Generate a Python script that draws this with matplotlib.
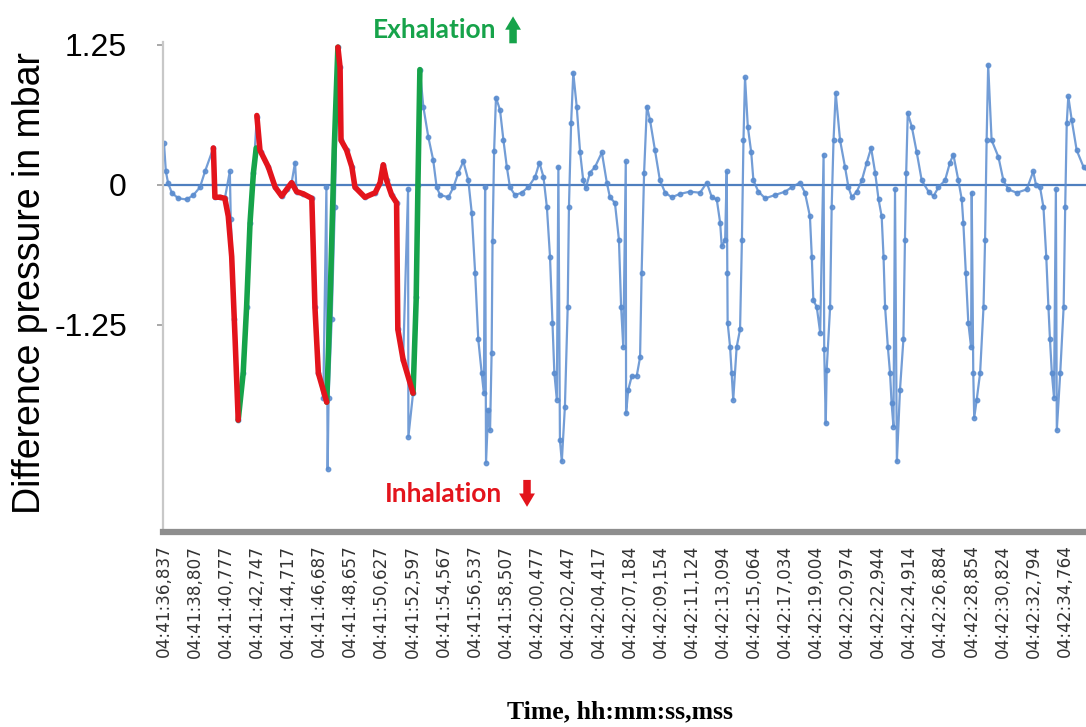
import numpy as np
import matplotlib.pyplot as plt

# time labels (category axis, one label per tick)
time_labels = ["04:41:36,837", "04:41:38,807", "04:41:40,777", "04:41:42,747",
               "04:41:44,717", "04:41:46,687", "04:41:48,657", "04:41:50,627",
               "04:41:52,597", "04:41:54,567", "04:41:56,537", "04:41:58,507",
               "04:42:00,477", "04:42:02,447", "04:42:04,417", "04:42:07,184",
               "04:42:09,154", "04:42:11,124", "04:42:13,094", "04:42:15,064",
               "04:42:17,034", "04:42:19,004", "04:42:20,974", "04:42:22,944",
               "04:42:24,914", "04:42:26,884", "04:42:28,854", "04:42:30,824",
               "04:42:32,794", "04:42:34,764"]

# measured pressure signal (x in tick units, y in mbar)
signal_x = [0.00, 0.06, 0.13, 0.25, 0.46, 0.73, 0.95, 1.16, 1.32, 1.59,
            1.64, 1.80, 1.96, 2.12, 2.15, 2.27, 2.39, 2.55, 2.66, 2.77, 2.88, 2.99,
            3.12, 3.36, 3.58, 3.79, 3.95, 4.11, 4.22, 4.27, 4.49, 4.76, 4.86, 4.97,
            5.13, 5.23, 5.27, 5.30, 5.40, 5.50, 5.60,
            5.67, 5.70, 5.88, 6.05, 6.15, 6.47, 6.80, 6.96, 7.06, 7.17, 7.33, 7.49,
            7.53, 7.70, 7.86, 7.87, 8.02, 8.12, 8.18, 8.24,
            8.35, 8.51, 8.67, 8.78, 8.89, 9.16, 9.32, 9.48, 9.64, 9.80, 9.91, 10.02,
            10.12, 10.23, 10.30, 10.34, 10.37, 10.44, 10.50, 10.55, 10.58, 10.63, 10.69,
            10.82, 10.93, 11.04, 11.14, 11.30, 11.52, 11.73, 11.95, 12.09, 12.22,
            12.33, 12.43, 12.51, 12.57, 12.65, 12.70, 12.75, 12.81, 12.91, 13.00,
            13.04, 13.11, 13.18,
            13.29, 13.40, 13.50, 13.58, 13.72, 13.88, 14.10, 14.26, 14.36, 14.52,
            14.65, 14.72, 14.79, 14.87, 14.88, 14.95, 15.06, 15.22, 15.33, 15.38,
            15.46, 15.55,
            15.65, 15.81, 15.97, 16.14, 16.35, 16.62, 16.94, 17.26, 17.48, 17.64,
            17.80, 17.91, 17.96, 18.07, 18.12, 18.14, 18.15, 18.23, 18.28, 18.33,
            18.44, 18.55, 18.61, 18.66, 18.71,
            18.80, 18.91, 18.98, 19.14, 19.36, 19.68, 20.00, 20.22, 20.48, 20.64,
            20.80, 20.86, 20.91, 21.02, 21.13, 21.24, 21.26, 21.31, 21.34, 21.45,
            21.50, 21.56, 21.63,
            21.77, 21.93, 22.04, 22.15, 22.31, 22.47, 22.63, 22.77, 22.90, 23.01,
            23.11, 23.17, 23.22, 23.31, 23.38, 23.43, 23.49, 23.54, 23.60, 23.70,
            23.81, 23.86, 23.90, 23.95,
            24.08, 24.24, 24.40, 24.62, 24.78, 24.94, 25.15, 25.31, 25.42, 25.58,
            25.69, 25.74, 25.82, 25.90, 25.99, 26.01, 26.06, 26.09, 26.17, 26.28,
            26.39, 26.44, 26.49, 26.54,
            26.65, 26.87, 27.03, 27.19, 27.46, 27.78, 27.99, 28.08, 28.21, 28.32,
            28.41, 28.48, 28.53, 28.59, 28.66, 28.72, 28.75, 28.86, 28.97, 29.02,
            29.07, 29.12, 29.23, 29.39, 29.61, 29.82]
signal_y = [0.37, 0.12, 0.02, -0.07, -0.12, -0.13, -0.09, -0.02, 0.12, 0.33,
            -0.11, -0.11, -0.12, 0.12, -0.30, -1.20, -2.10, -1.68, -1.09, -0.34, 0.11, 0.61,
            0.29, 0.16, -0.02, -0.10, -0.04, 0.02, 0.20, -0.06, -0.08, -0.12, -1.09, -1.68,
            -1.90, -0.02, -2.54, -1.90, -1.20, -0.20, 1.23,
            1.05, 0.40, 0.31, 0.16, -0.02, -0.11, -0.07, 0.02, 0.18, 0.04, -0.09, -0.16,
            -1.29, -1.56, -0.04, -2.25, -1.86, -1.00, 0.00, 1.03,
            0.70, 0.43, 0.22, -0.02, -0.09, -0.11, -0.02, 0.11, 0.21, 0.04, -0.25, -0.79,
            -1.38, -1.68, -1.86, -0.02, -2.48, -2.01, -2.19, -1.50, -0.50, 0.30, 0.78,
            0.67, 0.40, 0.16, -0.02, -0.09, -0.07, -0.02, 0.07, 0.20, 0.07,
            -0.20, -0.64, -1.23, -1.68, -1.92, 0.16, -2.28, -2.47, -1.98, -1.09,
            -0.20, 0.55, 1.00,
            0.70, 0.29, 0.04, -0.03, 0.11, 0.16, 0.29, 0.02, -0.11, -0.16,
            -0.49, -1.09, -1.45, 0.21, -2.04, -1.83, -1.71, -1.71, -1.54, -0.79,
            0.11, 0.70,
            0.58, 0.31, 0.04, -0.07, -0.11, -0.08, -0.06, -0.07, 0.02, -0.11,
            -0.13, -0.34, -0.55, -0.49, 0.12, -0.79, -1.23, -1.45, -1.68, -1.92,
            -1.45, -1.29, -0.49, 0.40, 0.96,
            0.52, 0.29, 0.04, -0.06, -0.12, -0.09, -0.06, -0.02, 0.02, -0.07,
            -0.28, -0.64, -1.03, -1.09, -1.32, 0.27, -1.47, -2.13, -1.65, -1.09,
            -0.20, 0.40, 0.82,
            0.40, 0.16, -0.02, -0.11, -0.06, 0.04, 0.20, 0.33, 0.11, -0.13,
            -0.28, -0.64, -1.09, -1.45, -1.68, -1.95, -2.16, -0.04, -2.47, -1.83,
            -1.38, -0.49, 0.11, 0.64,
            0.52, 0.29, 0.04, -0.06, -0.10, -0.02, 0.04, 0.20, 0.27, 0.04,
            -0.13, -0.34, -0.79, -1.23, -1.45, -0.07, -1.68, -2.08, -1.92, -1.68,
            -1.09, -0.49, 0.40, 1.07,
            0.40, 0.25, 0.04, -0.04, -0.07, -0.04, 0.12, 0.00, -0.02, -0.20,
            -0.64, -1.09, -1.38, -1.68, -1.90, -0.04, -2.19, -1.68, -1.09, -0.20,
            0.55, 0.79, 0.58, 0.31, 0.16, 0.10]

# highlighted phases (hand-drawn overlays)
inhal_x = [[1.59, 1.64, 1.80, 1.96, 2.07, 2.18, 2.29, 2.39],
           [2.99, 3.09, 3.36, 3.58, 3.79, 3.95, 4.11, 4.27, 4.49, 4.76, 4.86, 4.97, 5.24],
           [5.60, 5.67, 5.70, 5.88, 6.05, 6.15, 6.47, 6.80, 6.96, 7.06, 7.17, 7.33, 7.49,
            7.53, 7.70, 8.02]]
inhal_y = [[0.33, -0.11, -0.11, -0.12, -0.28, -0.64, -1.38, -2.10],
           [0.62, 0.31, 0.16, -0.02, -0.10, -0.04, 0.02, -0.06, -0.08, -0.12, -1.09, -1.68, -1.94],
           [1.23, 1.05, 0.40, 0.31, 0.16, -0.02, -0.11, -0.07, 0.02, 0.18, 0.04, -0.09, -0.16,
            -1.29, -1.56, -1.86]]
exhal_x = [[2.39, 2.55, 2.66, 2.77, 2.88, 2.97],
           [5.24, 5.35, 5.48, 5.60],
           [8.02, 8.12, 8.18, 8.24]]
exhal_y = [[-2.10, -1.68, -1.09, -0.34, 0.11, 0.33],
           [-1.94, -1.03, 0.31, 1.23],
           [-1.86, -1.03, 0.04, 1.03]]

blue = '#5a8ccf'
red = '#e3141c'
green = '#16a34a'

fig = plt.figure(figsize=(10.86, 7.27), dpi=100)
ax = fig.add_axes([163 / 1086, 1 - 532 / 727, 923 / 1086, 490.4 / 727])

ax.axhline(0, color='#4f7fbf', lw=1.6, zorder=1)
ax.plot(signal_x, signal_y, color=blue, lw=1.6, marker='o', ms=3.2,
        mfc=blue, mec=blue, alpha=0.85, zorder=2)
for xs, ys in zip(inhal_x, inhal_y):
    ax.plot(xs, ys, color=red, lw=4, solid_capstyle='round', solid_joinstyle='round', zorder=4)
for xs, ys in zip(exhal_x, exhal_y):
    ax.plot(xs, ys, color=green, lw=4, solid_capstyle='round', solid_joinstyle='round', zorder=3)

ax.set_xlim(-0.032, 29.69)
ax.set_ylim(-3.1, 1.28)
ax.set_yticks([1.25, 0, -1.25])
ax.set_yticklabels(['1.25', '0', '-1.25'], fontsize=23, fontfamily='Liberation Sans')
ax.tick_params(axis='y', length=4, width=1.2, color='#9a9a9a', pad=22)
ax.set_xticks(range(len(time_labels)))
ax.set_xticklabels(time_labels, rotation=90, fontsize=12.2, color='#333333')
ax.tick_params(axis='x', length=0, pad=9)

for s in ['top', 'right']:
    ax.spines[s].set_visible(False)
ax.spines['left'].set_color('#c8c8c8')
ax.spines['left'].set_linewidth(1.6)
ax.spines['bottom'].set_color('#8e8e8e')
ax.spines['bottom'].set_linewidth(4.5)

fig.text(30 / 1086, 1 - 283 / 727, 'Difference pressure in mbar', rotation=90,
         ha='center', va='center', fontsize=27, fontfamily='Liberation Sans')
fig.text(620 / 1086, 1 - 712 / 727, 'Time, hh:mm:ss,mss', ha='center', va='center',
         fontsize=18.5, fontweight='bold', fontfamily='Liberation Serif')

arrow = 'simple,head_width=0.95,head_length=0.8,tail_width=0.45'
ax.text(8.7, 1.38, 'Exhalation', color=green, fontsize=19, fontweight='bold',
        fontfamily='Lato', ha='center', va='center', clip_on=False)
ax.annotate('', xy=(11.24, 1.53), xytext=(11.24, 1.24), annotation_clip=False,
            arrowprops=dict(arrowstyle=arrow, color=green, lw=0, mutation_scale=12))
ax.text(8.99, -2.76, 'Inhalation', color=red, fontsize=19, fontweight='bold',
        fontfamily='Lato', ha='center', va='center', clip_on=False)
ax.annotate('', xy=(11.69, -2.90), xytext=(11.69, -2.61), annotation_clip=False,
            arrowprops=dict(arrowstyle=arrow, color=red, lw=0, mutation_scale=12))

fig.savefig('out.png', dpi=100)
